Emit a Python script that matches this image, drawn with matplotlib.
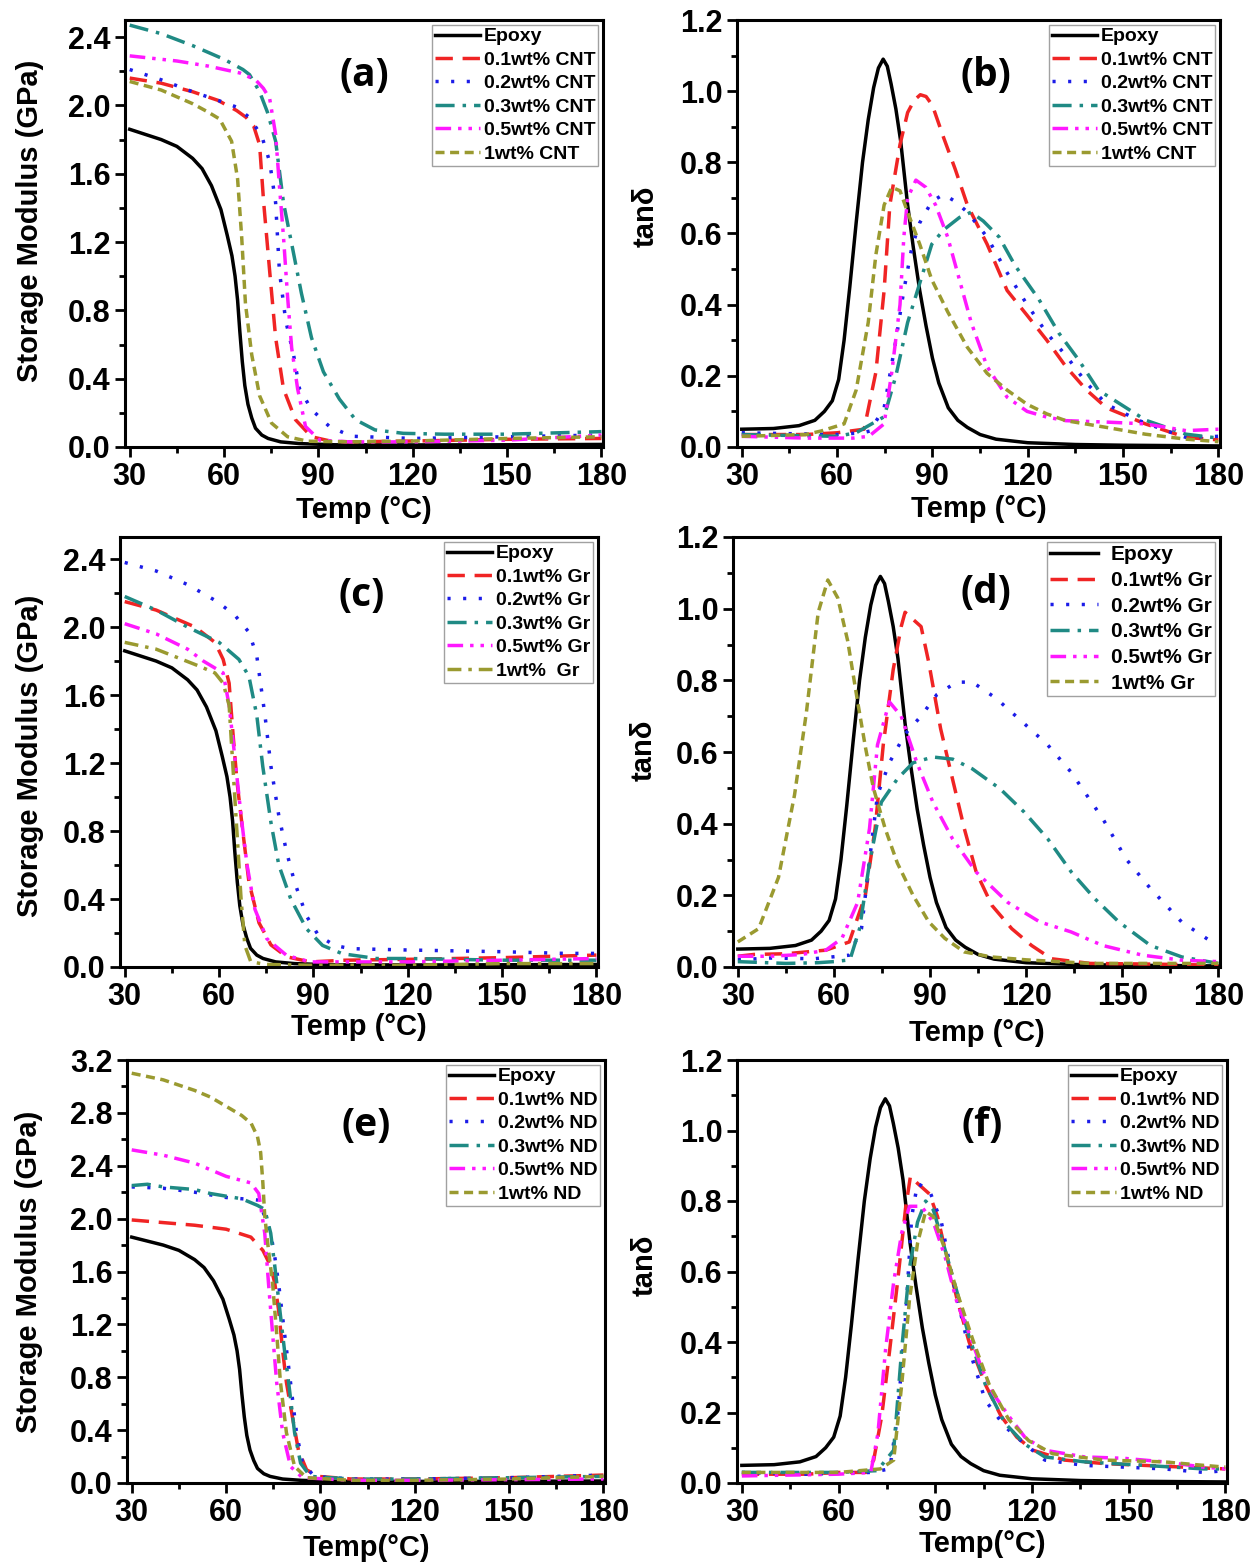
import numpy as np
import matplotlib
matplotlib.use("Agg")
import matplotlib.pyplot as plt
from matplotlib.ticker import MultipleLocator, FormatStrFormatter

plt.rcParams['font.family'] = ['Liberation Sans', 'DejaVu Sans']
plt.rcParams['font.weight'] = 'bold'

# ---------------- data ----------------
# neat epoxy, shared by all panels
epoxy_E_T = [30, 40, 45, 50, 53, 56, 59, 61, 62.5, 63.5, 64.3, 65, 65.8, 66.6, 67.6, 68.8, 70, 72, 74, 78, 84, 95, 120, 150, 180]
epoxy_E = [1.86, 1.80, 1.76, 1.69, 1.63, 1.53, 1.39, 1.24, 1.12, 1.0, 0.86, 0.68, 0.50, 0.36, 0.25, 0.17, 0.11, 0.07, 0.05, 0.03, 0.02, 0.013, 0.012, 0.013, 0.015]
epoxy_tan_T = [30, 40, 48, 53, 56, 58.5, 60.5, 62.2, 64, 66, 68, 69.8, 71.5, 73, 74.5, 75.8, 77, 78.5, 80, 82.2, 84, 86, 88, 90, 92, 95, 98, 101, 105, 110, 120, 135, 150, 180]
epoxy_tan = [0.05, 0.052, 0.06, 0.075, 0.10, 0.13, 0.19, 0.30, 0.45, 0.63, 0.80, 0.92, 1.01, 1.065, 1.09, 1.07, 1.02, 0.95, 0.86, 0.68, 0.56, 0.44, 0.34, 0.25, 0.18, 0.11, 0.075, 0.055, 0.035, 0.022, 0.012, 0.007, 0.005, 0.003]

# (a) storage modulus, CNT
cnt01_E_T = [30, 40, 50, 58, 64, 67, 69.4, 71.3, 72.6, 74.5, 76.4, 78.9, 82.7, 87.8, 94, 100, 120, 150, 180]
cnt01_E = [2.16, 2.13, 2.08, 2.03, 1.97, 1.93, 1.88, 1.77, 1.43, 1.03, 0.64, 0.34, 0.16, 0.06, 0.034, 0.03, 0.035, 0.045, 0.05]
cnt02_E_T = [30, 40, 50, 58, 64, 68, 72, 74.5, 76.4, 77.6, 79.6, 82.1, 84, 87.8, 93.5, 100.5, 120, 150, 180]
cnt02_E = [2.21, 2.15, 2.08, 2.03, 1.99, 1.93, 1.82, 1.67, 1.43, 1.03, 0.74, 0.54, 0.34, 0.22, 0.12, 0.063, 0.05, 0.06, 0.07]
cnt03_E_T = [30, 40, 50, 60, 66, 68.1, 71.3, 73.8, 76.4, 78.9, 81.5, 84.6, 87.8, 91.6, 96.7, 101.8, 108, 117, 130, 150, 170, 180]
cnt03_E = [2.47, 2.42, 2.35, 2.27, 2.21, 2.18, 2.08, 1.96, 1.79, 1.43, 1.19, 0.90, 0.64, 0.44, 0.28, 0.16, 0.10, 0.08, 0.075, 0.075, 0.085, 0.09]
cnt05_E_T = [30, 45, 55, 65, 70, 72.5, 74.5, 76.4, 77.6, 78.9, 80.2, 81.5, 83.4, 85.9, 90.4, 100, 120, 150, 180]
cnt05_E = [2.29, 2.26, 2.23, 2.19, 2.15, 2.10, 2.04, 1.83, 1.53, 1.23, 0.88, 0.58, 0.34, 0.12, 0.04, 0.03, 0.03, 0.04, 0.07]
cnt1_E_T = [30, 40, 50, 55, 58.6, 62.4, 64.3, 65.6, 66.8, 68.8, 71.3, 75.1, 80.2, 86.5, 100, 120, 150, 180]
cnt1_E = [2.14, 2.09, 2.01, 1.96, 1.92, 1.79, 1.57, 1.23, 0.84, 0.54, 0.30, 0.14, 0.06, 0.034, 0.03, 0.035, 0.05, 0.06]

# (b) tan delta, CNT
cnt01_tan_T = [30, 50, 60, 68.5, 72.2, 74.8, 76.6, 79.8, 82.2, 84.3, 86.2, 88, 90, 93.5, 97.2, 101, 107.2, 113.5, 119.8, 126, 132, 138.5, 144.8, 157, 169.8, 180]
cnt01_tan = [0.035, 0.035, 0.04, 0.05, 0.21, 0.44, 0.68, 0.85, 0.94, 0.975, 0.99, 0.985, 0.96, 0.87, 0.78, 0.68, 0.57, 0.44, 0.37, 0.30, 0.226, 0.16, 0.11, 0.065, 0.027, 0.02]
cnt02_tan_T = [30, 60, 68, 70.4, 74.8, 78.5, 81, 83.5, 86, 89.8, 93.5, 97.2, 101, 107.2, 113.5, 119.8, 126, 132.2, 138.5, 144.8, 154.8, 163.5, 169.8, 180]
cnt02_tan = [0.04, 0.035, 0.04, 0.045, 0.11, 0.30, 0.44, 0.56, 0.63, 0.69, 0.71, 0.69, 0.66, 0.59, 0.49, 0.40, 0.32, 0.255, 0.18, 0.12, 0.075, 0.046, 0.027, 0.03]
cnt03_tan_T = [30, 60, 66, 74.8, 78.5, 82.2, 86, 89.8, 93.5, 98.5, 102.2, 106, 111, 116, 123.5, 129.8, 136, 142.2, 151, 157.2, 169.8, 180]
cnt03_tan = [0.035, 0.03, 0.04, 0.085, 0.20, 0.35, 0.46, 0.57, 0.61, 0.645, 0.66, 0.635, 0.59, 0.51, 0.415, 0.32, 0.245, 0.16, 0.11, 0.075, 0.036, 0.025]
cnt05_tan_T = [30, 50, 65, 70, 74.8, 77.2, 79.8, 81, 82.2, 84.8, 87.9, 91, 94.8, 98.5, 102.2, 107.2, 113.5, 119.8, 126, 132, 144.8, 157, 169.8, 180]
cnt05_tan = [0.03, 0.025, 0.025, 0.03, 0.065, 0.21, 0.40, 0.59, 0.70, 0.75, 0.73, 0.68, 0.59, 0.47, 0.35, 0.226, 0.14, 0.10, 0.084, 0.074, 0.07, 0.065, 0.046, 0.05]
cnt1_tan_T = [30, 50, 55, 62.2, 66, 69.8, 72.2, 74.8, 77.2, 79.8, 82.2, 86, 89.8, 94.8, 101, 107.2, 113.5, 119.8, 126, 132, 144.8, 157, 169.8, 180]
cnt1_tan = [0.03, 0.035, 0.045, 0.065, 0.16, 0.35, 0.54, 0.68, 0.73, 0.72, 0.66, 0.57, 0.47, 0.38, 0.28, 0.207, 0.16, 0.12, 0.093, 0.074, 0.055, 0.036, 0.022, 0.015]

# (c) storage modulus, graphene
gr01_E_T = [30, 40, 52.4, 58.7, 61.3, 63.2, 64.4, 65.7, 67.6, 69.5, 72.7, 76.5, 81.5, 89, 100, 120, 150, 180]
gr01_E = [2.15, 2.10, 2.0, 1.91, 1.81, 1.67, 1.38, 1.09, 0.79, 0.50, 0.26, 0.13, 0.06, 0.03, 0.04, 0.045, 0.055, 0.07]
gr02_E_T = [30, 40, 50, 59.4, 65, 69.5, 72, 74.6, 76.5, 79, 81.5, 84, 87.8, 91.6, 96.7, 101.8, 120, 150, 170, 180]
gr02_E = [2.38, 2.33, 2.25, 2.15, 2.07, 1.97, 1.83, 1.48, 1.18, 0.89, 0.675, 0.50, 0.30, 0.186, 0.127, 0.108, 0.10, 0.09, 0.08, 0.08]
gr03_E_T = [30, 40, 50, 60, 66.3, 69.5, 72, 73.9, 76.5, 79, 82.8, 87.8, 92.9, 99.2, 110, 120, 150, 180]
gr03_E = [2.18, 2.10, 2.00, 1.91, 1.81, 1.71, 1.48, 1.18, 0.85, 0.60, 0.40, 0.225, 0.127, 0.078, 0.05, 0.05, 0.04, 0.04]
gr05_E_T = [30, 40, 50, 55, 61.3, 63.2, 65.1, 67, 68.9, 71.4, 75.2, 81.5, 89, 120, 150, 180]
gr05_E = [2.02, 1.96, 1.87, 1.80, 1.73, 1.54, 1.22, 0.89, 0.60, 0.34, 0.166, 0.068, 0.03, 0.03, 0.04, 0.05]
gr1_E_T = [30, 40, 53.7, 58.7, 61.3, 63.2, 64.4, 65.7, 67, 68.2, 70.1, 75, 90, 120, 150, 180]
gr1_E = [1.91, 1.87, 1.77, 1.73, 1.67, 1.54, 1.18, 0.79, 0.40, 0.127, 0.03, 0.015, 0.01, 0.01, 0.02, 0.02]

# (d) tan delta, graphene
gr01_tan_T = [30, 35, 45, 57.5, 64.8, 69.8, 72.9, 75.4, 78.5, 81, 82.2, 84.7, 87.2, 89.6, 93.3, 97, 100.7, 104.4, 109.3, 115.5, 121.7, 127.9, 140, 160, 180]
gr01_tan = [0.03, 0.035, 0.037, 0.047, 0.07, 0.20, 0.39, 0.62, 0.83, 0.95, 0.99, 0.97, 0.95, 0.85, 0.665, 0.525, 0.386, 0.265, 0.172, 0.107, 0.06, 0.023, 0.01, 0.008, 0.005]
gr02_tan_T = [30, 40, 53.8, 64.8, 68.6, 71, 73.6, 77.3, 82.2, 87.2, 92.1, 98.3, 103.2, 110.6, 119.3, 126.7, 134, 143.9, 151.3, 158.7, 168.5, 179.6]
gr02_tan = [0.02, 0.025, 0.023, 0.033, 0.107, 0.29, 0.48, 0.57, 0.65, 0.70, 0.76, 0.795, 0.795, 0.75, 0.68, 0.62, 0.544, 0.414, 0.30, 0.22, 0.126, 0.06]
gr03_tan_T = [30, 45, 55, 60, 65, 68, 71.1, 74.8, 79.8, 84.7, 90.9, 97.1, 103.2, 111.9, 119.3, 126.7, 134.1, 141.5, 148.9, 158.8, 168.6, 180]
gr03_tan = [0.015, 0.01, 0.012, 0.015, 0.02, 0.107, 0.29, 0.46, 0.525, 0.57, 0.586, 0.58, 0.553, 0.497, 0.433, 0.358, 0.265, 0.19, 0.126, 0.06, 0.028, 0.01]
gr05_tan_T = [30, 40, 50, 57.5, 62.5, 67.4, 71.1, 73.6, 77.3, 81, 85.9, 90.9, 97, 104.4, 114.3, 124.2, 134, 143.9, 156.3, 168.6, 180]
gr05_tan = [0.03, 0.03, 0.035, 0.047, 0.08, 0.18, 0.386, 0.62, 0.74, 0.70, 0.57, 0.46, 0.358, 0.265, 0.18, 0.126, 0.098, 0.06, 0.033, 0.019, 0.015]
gr1_tan_T = [30, 36.5, 42.7, 47.7, 51.4, 55.1, 58.1, 61.2, 64.3, 67.4, 69.9, 72.3, 76, 79.8, 84.7, 89.6, 94.6, 100.7, 109.3, 120, 140, 160, 180]
gr1_tan = [0.07, 0.107, 0.25, 0.48, 0.71, 0.99, 1.08, 1.03, 0.91, 0.74, 0.61, 0.50, 0.386, 0.29, 0.20, 0.126, 0.08, 0.042, 0.028, 0.02, 0.01, 0.01, 0.01]

# (e) storage modulus, nanodiamond
nd01_E_T = [30, 40, 50, 60, 67.9, 71.7, 74.2, 75.5, 76.7, 78, 79.2, 81.1, 83, 85.6, 89.3, 100, 120, 150, 180]
nd01_E = [1.99, 1.97, 1.95, 1.92, 1.86, 1.76, 1.64, 1.51, 1.31, 1.0, 0.76, 0.50, 0.25, 0.10, 0.05, 0.03, 0.03, 0.04, 0.06]
nd02_E_T = [30, 40, 50, 60, 70.4, 74.2, 75.5, 76.7, 78.6, 80.5, 82.4, 84.3, 88.1, 100, 120, 150, 180]
nd02_E = [2.24, 2.23, 2.20, 2.16, 2.14, 1.89, 1.71, 1.51, 1.13, 0.76, 0.38, 0.15, 0.05, 0.03, 0.03, 0.04, 0.06]
nd03_E_T = [30, 35, 40, 50, 55, 60, 65, 70, 72.3, 74.2, 75.5, 76.7, 78.6, 79.9, 81.8, 83.7, 86.8, 100, 120, 150, 180]
nd03_E = [2.25, 2.26, 2.24, 2.22, 2.19, 2.17, 2.15, 2.10, 2.07, 1.89, 1.64, 1.39, 1.0, 0.76, 0.38, 0.15, 0.05, 0.03, 0.03, 0.04, 0.05]
nd05_E_T = [30, 40, 50, 55, 60, 67.9, 70.4, 72.3, 73.5, 74.8, 76.1, 78, 80.5, 84.3, 100, 120, 150, 180]
nd05_E = [2.52, 2.48, 2.42, 2.37, 2.32, 2.27, 2.19, 1.89, 1.51, 1.13, 0.76, 0.38, 0.125, 0.04, 0.02, 0.02, 0.025, 0.03]
nd1_E_T = [30, 40, 50, 55, 60, 65, 68, 70, 71, 71.7, 72.3, 73.5, 74.8, 76.1, 77.3, 79.2, 81.8, 85.6, 100, 120, 150, 180]
nd1_E = [3.10, 3.05, 2.97, 2.92, 2.85, 2.78, 2.72, 2.62, 2.50, 2.27, 2.02, 1.76, 1.51, 1.13, 0.76, 0.38, 0.125, 0.04, 0.02, 0.02, 0.03, 0.05]

# (f) tan delta, nanodiamond
nd01_tan_T = [30, 50, 60, 68.5, 70.9, 73.4, 75.9, 78.3, 80.8, 82.3, 84.5, 88.2, 90.7, 93.1, 96.8, 100.5, 105.5, 110.4, 115.3, 120.3, 130.1, 142.5, 154.8, 167.1, 180]
nd01_tan = [0.025, 0.025, 0.03, 0.03, 0.065, 0.19, 0.38, 0.57, 0.78, 0.87, 0.85, 0.82, 0.756, 0.66, 0.52, 0.40, 0.28, 0.19, 0.13, 0.093, 0.065, 0.055, 0.05, 0.045, 0.04]
nd02_tan_T = [30, 50, 70, 75.9, 78.3, 80.8, 82.7, 84.5, 88.2, 91.9, 95.6, 100.5, 105.5, 111.6, 117.8, 124, 136.3, 148.6, 160.9, 173.3, 180]
nd02_tan = [0.03, 0.025, 0.03, 0.04, 0.19, 0.47, 0.756, 0.85, 0.83, 0.74, 0.57, 0.38, 0.235, 0.16, 0.11, 0.065, 0.05, 0.045, 0.04, 0.03, 0.035]
nd03_tan_T = [30, 60, 72, 77.1, 79.6, 82, 84.5, 87, 89.4, 93.1, 96.8, 100.5, 105.5, 111.6, 117.8, 124, 136.3, 154.8, 173.3, 180]
nd03_tan = [0.03, 0.03, 0.035, 0.093, 0.38, 0.61, 0.74, 0.80, 0.775, 0.66, 0.54, 0.415, 0.28, 0.17, 0.11, 0.074, 0.06, 0.05, 0.04, 0.04]
nd05_tan_T = [30, 60, 70, 72.2, 74.6, 77.1, 79.6, 82, 85.7, 89.4, 93.1, 96.8, 100.5, 104.2, 107.9, 112.8, 117.8, 124, 136.3, 148.6, 160.9, 173.3, 180]
nd05_tan = [0.02, 0.025, 0.03, 0.14, 0.38, 0.57, 0.71, 0.785, 0.785, 0.74, 0.64, 0.51, 0.425, 0.33, 0.255, 0.19, 0.13, 0.093, 0.074, 0.07, 0.06, 0.045, 0.04]
nd1_tan_T = [30, 60, 73, 77.1, 79.6, 82, 84.5, 87, 89.4, 93.1, 96.8, 101.7, 106.7, 112.8, 119, 126.4, 142.5, 160.9, 173.3, 180]
nd1_tan = [0.03, 0.03, 0.04, 0.065, 0.28, 0.52, 0.68, 0.77, 0.756, 0.66, 0.54, 0.405, 0.28, 0.18, 0.12, 0.083, 0.065, 0.06, 0.05, 0.045]

cnt_labels = ['Epoxy', '0.1wt% CNT', '0.2wt% CNT', '0.3wt% CNT', '0.5wt% CNT', '1wt% CNT']
gr_labels = ['Epoxy', '0.1wt% Gr', '0.2wt% Gr', '0.3wt% Gr', '0.5wt% Gr', '1wt%  Gr']
gr_labels_d = ['Epoxy', '0.1wt% Gr', '0.2wt% Gr', '0.3wt% Gr', '0.5wt% Gr', '1wt% Gr']
nd_labels = ['Epoxy', '0.1wt% ND', '0.2wt% ND', '0.3wt% ND', '0.5wt% ND', '1wt% ND']

# ---------------- styling ----------------
colors = ['black', '#f02424', '#1c1ce8', '#1f8a84', '#ff18ff', '#9a9a30']
dashes = [None, (5, 2.8), (0.9, 3.6), (5.5, 2.3, 1, 2.3), (4.5, 2, 1, 2, 1, 2), (2.6, 1.6)]
dashes_c = dashes[:5] + [(4, 2, 1, 2)]

fig = plt.figure(figsize=(12.5, 15.65), dpi=100)


def panel(rect, series, labels, ylim, ymaj, fmt, ylabel, ylab_xy, xlabel, xlab_y,
          tag, tag_xy, styles=dashes, legfs=14, textpad=0.2, lspace=0.3):
    ax = fig.add_axes(rect)
    for (T, y), lab, c, d in zip(series, labels, colors, styles):
        ls = '-' if d is None else (0, d)
        ax.plot(T, y, color=c, lw=2.5, ls=ls, label=lab)
    ax.set_xlim(28.5, 180.5)
    ax.set_ylim(*ylim)
    ax.xaxis.set_major_locator(MultipleLocator(30))
    ax.xaxis.set_minor_locator(MultipleLocator(15))
    ax.yaxis.set_major_locator(MultipleLocator(ymaj))
    ax.yaxis.set_minor_locator(MultipleLocator(ymaj / 2))
    ax.yaxis.set_major_formatter(FormatStrFormatter(fmt))
    for s in ax.spines.values():
        s.set_linewidth(2.2)
    ax.tick_params(which='both', direction='out', width=2, labelsize=22, top=False, right=False)
    ax.tick_params(which='major', length=7)
    ax.tick_params(which='minor', length=4)
    ax.set_ylabel(ylabel, fontsize=21, fontweight='bold')
    ax.yaxis.set_label_coords(*ylab_xy)
    ax.set_xlabel(xlabel, fontsize=21, fontweight='bold', va='top')
    ax.xaxis.set_label_coords(0.5, xlab_y)
    ax.text(tag_xy[0], tag_xy[1], tag, transform=ax.transAxes, ha='center', va='center',
            fontsize=28, fontweight='bold', family='Open Sans')
    leg = ax.legend(loc='upper right', fontsize=legfs, frameon=True, fancybox=False,
                    edgecolor='#8a8a8a', borderpad=0.15, labelspacing=lspace,
                    handlelength=2.3, handletextpad=textpad, borderaxespad=0.25)
    leg.get_frame().set_linewidth(1.0)
    return ax


W, H = 1250, 1565
left_col = (125 / W, 478 / W)
right_col = (737 / W, 483 / W)
rows = [(1 - 447 / H, 427 / H), (1 - 967 / H, 430 / H), (1 - 1483 / H, 423 / H)]

panel([left_col[0], rows[0][0], left_col[1], rows[0][1]],
      [(epoxy_E_T, epoxy_E), (cnt01_E_T, cnt01_E), (cnt02_E_T, cnt02_E),
       (cnt03_E_T, cnt03_E), (cnt05_E_T, cnt05_E), (cnt1_E_T, cnt1_E)],
      cnt_labels, (0, 2.5), 0.4, '%.1f', 'Storage Modulus (GPa)', (-0.17, 0.53),
      'Temp (°C)', -0.115, '(a)', (0.50, 0.87))

panel([right_col[0], rows[0][0], right_col[1], rows[0][1]],
      [(epoxy_tan_T, epoxy_tan), (cnt01_tan_T, cnt01_tan), (cnt02_tan_T, cnt02_tan),
       (cnt03_tan_T, cnt03_tan), (cnt05_tan_T, cnt05_tan), (cnt1_tan_T, cnt1_tan)],
      cnt_labels, (0, 1.2), 0.2, '%.1f', 'tanδ', (-0.16, 0.54),
      'Temp (°C)', -0.113, '(b)', (0.515, 0.87))

panel([left_col[0] - 5 / W, rows[1][0], left_col[1], rows[1][1]],
      [(epoxy_E_T, epoxy_E), (gr01_E_T, gr01_E), (gr02_E_T, gr02_E),
       (gr03_E_T, gr03_E), (gr05_E_T, gr05_E), (gr1_E_T, gr1_E)],
      gr_labels, (0, 2.53), 0.4, '%.1f', 'Storage Modulus (GPa)', (-0.16, 0.49),
      'Temp (°C)', -0.108, '(c)', (0.505, 0.865), styles=dashes_c)

panel([right_col[0] - 4 / W, rows[1][0], right_col[1] + 4 / W, rows[1][1]],
      [(epoxy_tan_T, epoxy_tan), (gr01_tan_T, gr01_tan), (gr02_tan_T, gr02_tan),
       (gr03_tan_T, gr03_tan), (gr05_tan_T, gr05_tan), (gr1_tan_T, gr1_tan)],
      gr_labels_d, (0, 1.2), 0.2, '%.1f', 'tanδ', (-0.155, 0.505),
      'Temp (°C)', -0.12, '(d)', (0.52, 0.87), legfs=15, textpad=0.6, lspace=0.32)

panel([left_col[0] + 2 / W, rows[2][0], left_col[1], rows[2][1]],
      [(epoxy_E_T, epoxy_E), (nd01_E_T, nd01_E), (nd02_E_T, nd02_E),
       (nd03_E_T, nd03_E), (nd05_E_T, nd05_E), (nd1_E_T, nd1_E)],
      nd_labels, (0, 3.2), 0.4, '%.1f', 'Storage Modulus (GPa)', (-0.175, 0.50),
      'Temp(°C)', -0.12, '(e)', (0.50, 0.846))

panel([right_col[0], rows[2][0], right_col[1] + 7 / W, rows[2][1]],
      [(epoxy_tan_T, epoxy_tan), (nd01_tan_T, nd01_tan), (nd02_tan_T, nd02_tan),
       (nd03_tan_T, nd03_tan), (nd05_tan_T, nd05_tan), (nd1_tan_T, nd1_tan)],
      nd_labels, (0, 1.2), 0.2, '%.1f', 'tanδ', (-0.16, 0.515),
      'Temp(°C)', -0.11, '(f)', (0.50, 0.846))

fig.savefig('out.png', dpi=100)
